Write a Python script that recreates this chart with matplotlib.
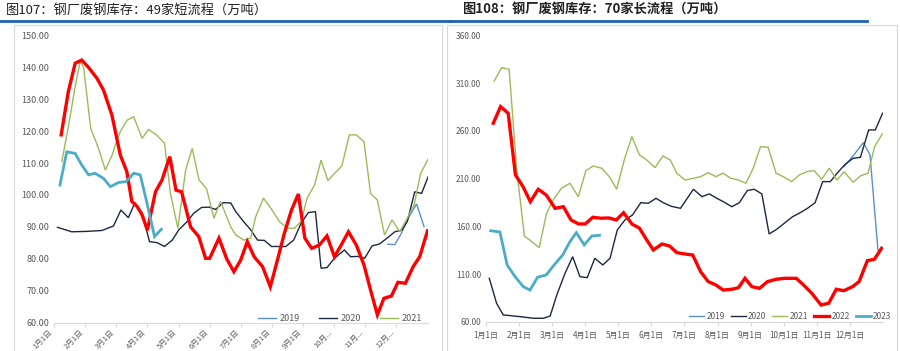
import matplotlib.pyplot as plt
from matplotlib.lines import Line2D

plt.rcParams['font.family'] = ['Noto Sans CJK SC', 'DejaVu Sans']

# ---- left: 49 EAF mills (x = months since Jan 1) ----
L19_x = [10.73, 10.95, 11.16, 11.38, 11.65, 11.89]
L19_y = [84.6, 84.5, 88.0, 92.7, 97.2, 90.1]

L20_x = [0.11, 0.57, 1.0, 1.54, 1.91, 2.15, 2.39, 2.6, 2.83, 3.07, 3.31, 3.55, 3.8, 4.01,
         4.28, 4.49, 4.74, 4.98, 5.19, 5.44, 5.68, 5.84, 6.09, 6.32, 6.54, 6.76, 6.99, 7.23,
         7.45, 7.7, 7.94, 8.17, 8.4, 8.58, 8.77, 9.01, 9.33, 9.53, 9.76, 9.98, 10.22, 10.46,
         10.7, 10.95, 11.17, 11.35, 11.59, 11.81, 12.02]
L20_y = [89.9, 88.5, 88.6, 88.9, 90.3, 95.3, 92.9, 97.6, 94.3, 85.4, 85.1, 83.9, 85.9, 89.1,
         91.7, 94.3, 96.1, 96.2, 95.5, 97.6, 97.5, 94.8, 91.7, 89.1, 85.9, 85.8, 83.9, 83.9,
         83.9, 85.9, 91.2, 94.5, 94.8, 77.1, 77.3, 80.2, 82.8, 80.7, 80.8, 80.2, 84.1, 84.7,
         86.5, 88.5, 89.0, 91.7, 101.0, 100.5, 105.7]

L21_x = [0.25, 0.46, 0.68, 0.84, 0.95, 1.18, 1.43, 1.65, 1.87, 1.97, 2.13, 2.35, 2.56, 2.83,
         3.04, 3.29, 3.55, 3.74, 3.98, 4.23, 4.44, 4.66, 4.9, 5.14, 5.35, 5.68, 5.84, 6.1,
         6.32, 6.48, 6.73, 6.97, 7.24, 7.5, 7.72, 7.94, 8.13, 8.37, 8.58, 8.8, 9.0, 9.25,
         9.49, 9.71, 9.96, 10.17, 10.39, 10.62, 10.86, 11.11, 11.32, 11.57, 11.78, 12.02]
L21_y = [110.4, 121.3, 133.9, 141.7, 140.0, 120.8, 114.6, 107.8, 112.5, 115.6, 119.8, 123.4,
         124.5, 117.7, 120.5, 118.8, 116.2, 100.5, 89.6, 107.8, 114.6, 104.7, 102.0, 92.7,
         98.0, 90.0, 87.5, 85.9, 86.5, 93.2, 99.0, 95.8, 91.7, 89.6, 89.6, 91.7, 99.0, 103.1,
         110.9, 104.5, 106.6, 109.1, 118.8, 118.8, 116.7, 100.5, 98.4, 87.5, 92.2, 88.5, 92.2,
         96.9, 106.8, 111.2]

L22_x = [0.23, 0.46, 0.68, 0.89, 1.1, 1.38, 1.59, 1.86, 2.13, 2.34, 2.5, 2.67, 2.83, 3.0,
         3.26, 3.47, 3.72, 3.92, 4.1, 4.39, 4.65, 4.87, 5.0, 5.3, 5.55, 5.78, 6.0, 6.21, 6.43,
         6.7, 6.95, 7.18, 7.4, 7.63, 7.85, 8.06, 8.28, 8.53, 8.77, 9.01, 9.23, 9.46, 9.71,
         9.96, 10.17, 10.39, 10.6, 10.84, 11.05, 11.29, 11.54, 11.75, 12.0]
L22_y = [118.8, 132.3, 141.2, 142.2, 140.0, 136.5, 132.8, 125.0, 112.5, 107.3, 98.0, 96.4,
         93.8, 89.0, 101.0, 104.7, 112.0, 101.5, 101.0, 90.0, 87.0, 80.2, 80.2, 86.5, 80.0,
         76.0, 79.7, 85.4, 80.7, 77.6, 71.3, 79.7, 88.0, 95.3, 100.3, 86.5, 83.3, 84.4, 87.2,
         80.7, 84.4, 88.5, 84.4, 78.1, 70.3, 62.5, 67.7, 68.4, 72.7, 72.4, 77.6, 80.7, 88.8]

L23_x = [0.19, 0.41, 0.68, 0.89, 1.11, 1.32, 1.59, 1.81, 2.07, 2.32, 2.56, 2.77, 2.99, 3.23, 3.45]
L23_y = [103.1, 113.5, 113.0, 109.4, 106.3, 106.8, 105.2, 102.6, 103.9, 104.2, 106.8, 106.3,
         97.4, 87.0, 89.3]

# ---- right: 70 BF mills ----
R19_x = [10.82, 11.08, 11.41, 11.61, 11.85]
R19_y = [222.6, 233.1, 247.8, 234.9, 135.2]

R20_x = [0.1, 0.32, 0.52, 1.03, 1.43, 1.74, 1.94, 2.14, 2.39, 2.62, 2.84, 3.06, 3.29, 3.53,
         3.75, 3.97, 4.2, 4.43, 4.68, 4.91, 5.14, 5.36, 5.6, 5.88, 6.27, 6.53, 6.75, 6.98,
         7.23, 7.43, 7.66, 7.9, 8.11, 8.34, 8.56, 8.79, 9.04, 9.27, 9.5, 9.72, 9.95, 10.18,
         10.41, 10.63, 10.86, 11.1, 11.32, 11.57, 11.77, 11.99]
R20_y = [105.5, 79.3, 67.1, 65.3, 63.6, 63.6, 66.0, 88.0, 110.8, 128.2, 107.2, 106.2, 126.5,
         119.5, 126.5, 156.2, 166.7, 171.9, 184.8, 184.2, 189.4, 184.8, 181.0, 178.9, 198.9,
         191.1, 194.0, 189.4, 184.8, 180.6, 184.8, 197.5, 198.9, 194.0, 152.0, 156.9, 163.8,
         170.1, 174.3, 178.9, 184.8, 206.9, 206.9, 216.3, 225.1, 231.4, 232.4, 261.1, 261.1,
         278.6]

R21_x = [0.25, 0.47, 0.7, 0.93, 1.16, 1.38, 1.61, 1.83, 2.03, 2.28, 2.54, 2.79, 3.02, 3.24,
         3.5, 3.73, 3.95, 4.18, 4.41, 4.64, 4.86, 5.11, 5.35, 5.57, 5.77, 6.02, 6.27, 6.49,
         6.72, 6.95, 7.17, 7.4, 7.63, 7.86, 8.08, 8.3, 8.53, 8.77, 8.99, 9.24, 9.47, 9.7,
         9.92, 10.15, 10.38, 10.61, 10.83, 11.1, 11.32, 11.55, 11.75, 11.98]
R21_y = [312.5, 326.4, 324.7, 219.0, 149.9, 144.0, 137.6, 173.7, 187.6, 199.9, 205.2, 191.1,
         218.4, 223.3, 220.9, 212.1, 198.9, 229.6, 254.1, 234.9, 229.6, 221.5, 233.8, 229.6,
         215.7, 208.6, 210.4, 212.1, 216.3, 212.1, 215.7, 210.4, 208.6, 205.2, 221.0, 243.6,
         242.9, 215.7, 212.1, 206.9, 213.9, 217.3, 218.4, 209.4, 221.0, 208.6, 217.3, 206.2,
         212.9, 215.7, 243.6, 256.9]

R22_x = [0.22, 0.44, 0.67, 0.89, 1.12, 1.34, 1.58, 1.82, 2.09, 2.34, 2.57, 2.8, 3.0, 3.23,
         3.47, 3.71, 3.94, 4.16, 4.41, 4.64, 4.86, 5.06, 5.32, 5.55, 5.77, 6.02, 6.25, 6.49,
         6.72, 6.95, 7.17, 7.43, 7.63, 7.83, 8.04, 8.27, 8.51, 8.77, 9.04, 9.38, 9.6, 9.85,
         10.13, 10.36, 10.59, 10.82, 11.08, 11.28, 11.53, 11.74, 11.96]
R22_y = [268.1, 285.5, 278.6, 213.9, 201.6, 185.9, 198.9, 192.9, 178.9, 180.6, 166.7, 162.5,
         162.5, 169.5, 168.5, 168.8, 166.7, 174.3, 162.5, 158.0, 145.7, 135.2, 141.5, 139.4,
         132.4, 131.0, 129.9, 112.4, 102.0, 98.5, 93.2, 94.0, 95.6, 105.5, 96.7, 95.0, 102.0,
         104.5, 105.5, 105.5, 98.5, 89.8, 77.5, 79.3, 94.0, 92.5, 96.7, 102.0, 124.0, 125.4,
         137.0]

R23_x = [0.14, 0.42, 0.64, 0.88, 1.13, 1.33, 1.56, 1.82, 2.06, 2.32, 2.54, 2.73, 2.97, 3.2, 3.43]
R23_y = [155.4, 154.1, 119.5, 107.2, 96.7, 93.2, 106.6, 109.0, 119.5, 130.0, 144.0, 153.4,
         140.5, 149.9, 150.6]

years = ['2019', '2020', '2021', '2022', '2023']
colors = ['#5B8FD0', '#1C2841', '#9BBB59', '#FF0000', '#4BACC6']
widths = [1.0, 1.0, 1.0, 2.4, 2.0]

left_ticks = ['1月1日', '2月1日', '3月1日', '4月1日', '5月1日', '6月1日', '7月1日', '8月1日',
              '9月1日', '10月...', '11月...', '12月...']
right_ticks = ['1月1日', '2月1日', '3月1日', '4月1日', '5月1日', '6月1日', '7月1日', '8月1日',
               '9月1日', '10月1日', '11月1日', '12月1日']

fig = plt.figure(figsize=(9, 3.51), dpi=100)

# panel frames and blue title rules
for x0, x1 in [(0.016, 0.491), (0.497, 0.997)]:
    fig.add_artist(plt.Rectangle((x0, -0.01), x1 - x0, 0.94, transform=fig.transFigure,
                                 fill=False, edgecolor='#D9D9D9', lw=0.8))
fig.add_artist(Line2D([0.0, 0.5], [0.94, 0.94], color='#1F62B0', lw=2.0))
fig.add_artist(Line2D([0.5, 0.963], [0.94, 0.94], color='#1F62B0', lw=2.0))

fig.text(0.006, 0.972, '图107：钢厂废钢库存：49家短流程（万吨）', fontsize=9.5,
         va='center', ha='left', color='#222222')
fig.text(0.513, 0.975, '图108：钢厂废钢库存：70家长流程（万吨）', fontsize=9.5,
         va='center', ha='left', color='#222222', fontweight='bold')


def style(ax):
    for s in ['top', 'right', 'left']:
        ax.spines[s].set_visible(False)
    ax.spines['bottom'].set_color('#D9D9D9')
    ax.tick_params(axis='y', length=0, colors='#595959', labelsize=6.5)
    ax.tick_params(axis='x', length=3, color='#D9D9D9', colors='#595959')
    ax.set_xlim(0, 12)
    ax.set_xticks(range(12))


# left
axL = fig.add_axes([0.06, 0.080, 0.415, 0.820])
left_data = [(L19_x, L19_y), (L20_x, L20_y), (L21_x, L21_y), (L22_x, L22_y), (L23_x, L23_y)]
for (xs, ys), yr, c, w in zip(left_data, years, colors, widths):
    axL.plot(xs, ys, color=c, lw=w, label=yr if yr in ('2019', '2020', '2021') else None,
             solid_joinstyle='miter')
axL.set_ylim(60, 150)
axL.set_yticks(range(60, 151, 10))
axL.set_yticklabels([f'{v:.2f}' for v in range(60, 151, 10)])
style(axL)
axL.set_xticklabels(left_ticks, rotation=45, ha='right', fontsize=5.5)
axL.tick_params(axis='x', pad=1)
axL.legend(loc='lower right', bbox_to_anchor=(0.995, -0.012), ncol=3, frameon=False,
           fontsize=6.5, handlelength=2.0, columnspacing=2.1, handletextpad=0.4,
           borderaxespad=0, labelcolor='#595959')

# right
axR = fig.add_axes([0.54, 0.0835, 0.441, 0.815])
right_data = [(R19_x, R19_y), (R20_x, R20_y), (R21_x, R21_y), (R22_x, R22_y), (R23_x, R23_y)]
for (xs, ys), yr, c, w in zip(right_data, years, colors, widths):
    axR.plot(xs, ys, color=c, lw=w, label=yr, solid_joinstyle='miter')
axR.set_ylim(60, 360)
axR.set_yticks(range(60, 361, 50))
axR.set_yticklabels([f'{v:.2f}' for v in range(60, 361, 50)])
style(axR)
axR.tick_params(axis='y', labelsize=6)
axR.set_xticklabels(right_ticks, fontsize=5.8)
axR.legend(loc='lower right', bbox_to_anchor=(1.03, -0.01), ncol=5, frameon=False,
           fontsize=6, handlelength=1.8, columnspacing=0.7, handletextpad=0.3,
           borderaxespad=0, labelcolor='#595959')

fig.savefig('out.png', dpi=100)
